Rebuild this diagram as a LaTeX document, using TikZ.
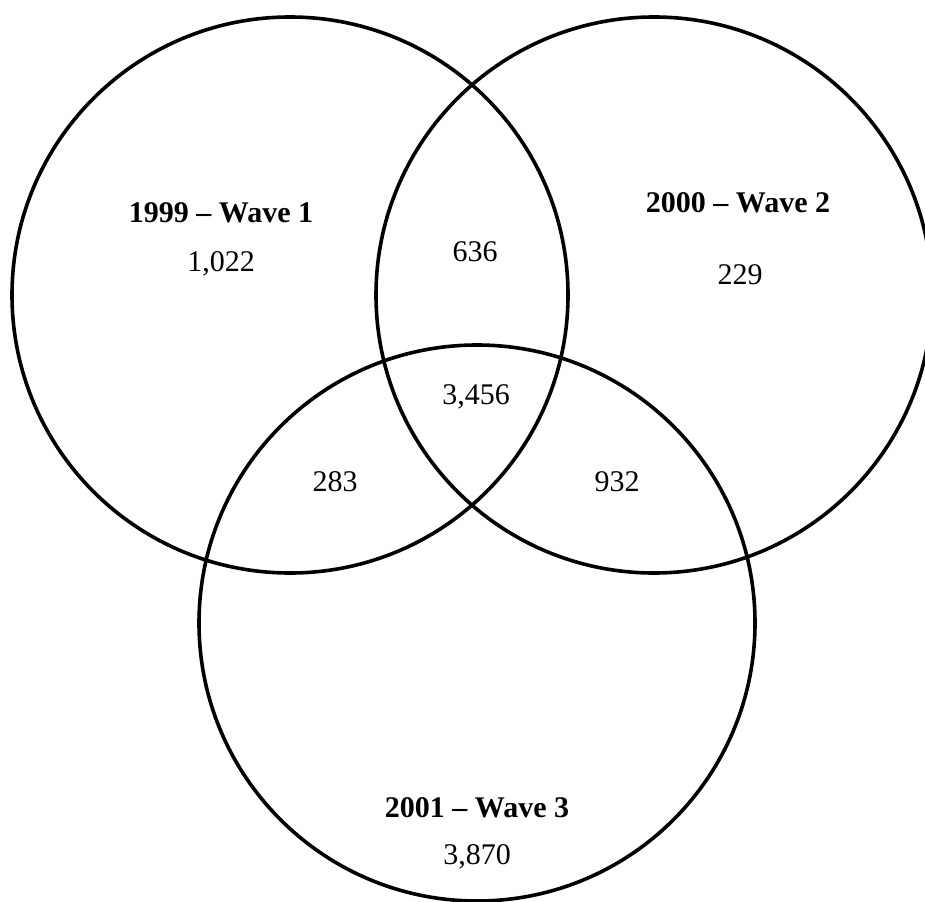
\documentclass[tikz,border=0pt]{standalone}
\usepackage{fontspec}
\setmainfont{Liberation Serif}
\usepackage{tikz}
\usetikzlibrary{positioning}
\tikzset{
	wave/.style={draw,circle,line width=3.6pt,inner sep=0pt,minimum size=556pt},
	count/.style={font=\fontsize{30}{35}\selectfont},
	wavename/.style={font=\fontsize{30}{35}\selectfont\bfseries}
}

\begin{document}
\begin{tikzpicture}[x=1pt,y=-1pt]
	\useasboundingbox (0,0) rectangle (925,901);

	\node [wave] (w1) at (290,295) {};
	\node [wave] (w2) at (654,295) {};
	\node [wave] (w3) at (477,623) {};

	\node [wavename] (n1) at (221,213) {1999 -- Wave 1};
	\node [count,below=21pt of n1] (c1) {1,022};
	\node [wavename] (n2) at (738,203) {2000 -- Wave 2};
	\node [count] (c2) at (740,275) {229};
	\node [wavename] (n3) at (477,808) {2001 -- Wave 3};
	\node [count,below=19pt of n3] (c3) {3,870};

	\node [count] (c12) at (475,252) {636};
	\node [count] (c123) at (476,397) {3,456};
	\node [count] (c13) at (335,482) {283};
	\node [count] (c23) at (617,482) {932};
\end{tikzpicture}
\end{document}
